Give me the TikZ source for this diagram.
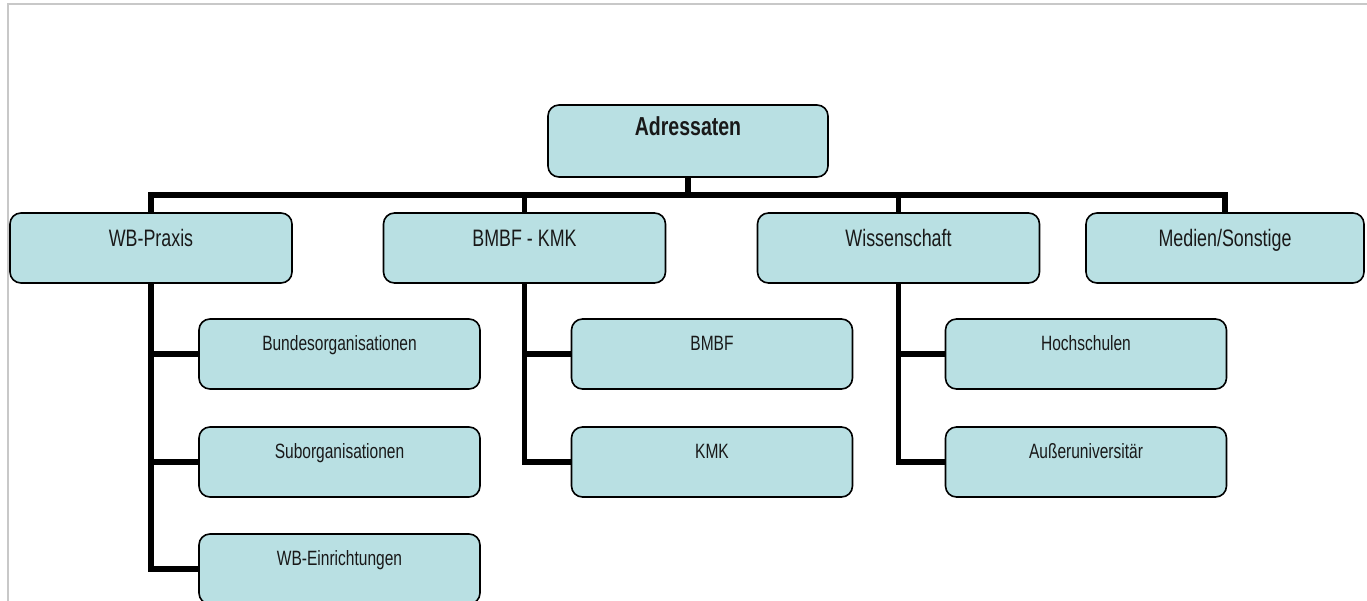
\documentclass[tikz,border=0pt]{standalone}
\usepackage{fontspec}
\newfontfamily\cf[FakeStretch=0.75]{Liberation Sans}
\usetikzlibrary{backgrounds}
\definecolor{boxfill}{RGB}{185,224,227}
\definecolor{frame}{RGB}{200,200,200}
\definecolor{txt}{RGB}{25,25,25}
\tikzset{
  box/.style={draw=black, line width=1.6pt, fill=boxfill, rounded corners=11pt,
    inner sep=0pt, text=txt, font=\cf, align=center},
  toplevel/.style={box, minimum width=280pt, minimum height=72pt,
    text height=12pt, text depth=24pt, font=\cf\bfseries\fontsize{26}{30}\selectfont},
  levelone/.style={box, minimum width=282pt, minimum height=70pt,
    text height=12pt, text depth=16pt, font=\cf\fontsize{23.8}{28}\selectfont},
  leveltwo/.style={box, minimum width=281pt, minimum height=70pt,
    text height=12pt, text depth=20pt, font=\cf\fontsize{20.7}{24}\selectfont},
  conn/.style={line width=5.5pt, line join=miter, line cap=rect, draw=black}
}
\begin{document}
\begin{tikzpicture}[x=1pt, y=-1pt]
\useasboundingbox (0,0) rectangle (1367,600);
\clip (0,0) rectangle (1367,600);
% frame
\draw[frame, line width=2.2pt] (1370,4) -- (8,4) -- (8,610);

\coordinate (bar) at (0,195);

\node[toplevel] (adr) at (688,141) {Adressaten};

\node[levelone] (wb)  at (151,248) {WB-Praxis};
\node[levelone] (bk)  at (524.5,248) {BMBF - KMK};
\node[levelone] (wis) at (898.5,248) {Wissenschaft};
\node[levelone, minimum width=278pt] (med) at (1225,248) {Medien/Sonstige};

\node[leveltwo] (bo)  at (339.5,354) {Bundesorganisationen};
\node[leveltwo] (so)  at (339.5,462) {Suborganisationen};
\node[leveltwo] (wbe) at (339.5,569) {WB-Einrichtungen};

\node[leveltwo] (bmbf) at (712,354) {BMBF};
\node[leveltwo] (kmk)  at (712,462) {KMK};

\node[leveltwo] (hs) at (1086,354) {Hochschulen};
\node[leveltwo] (au) at (1086,462) {Außeruniversitär};

\begin{scope}[on background layer]
  \draw[conn] (adr.south) -- (adr.south |- bar);
  \draw[conn] (wb.north) -- (wb.north |- bar) -- (med.north |- bar) -- (med.north);
  \draw[conn] (bk.north) -- (bk.north |- bar);
  \draw[conn] (wis.north) -- (wis.north |- bar);
  % WB-Praxis children
  \draw[conn] (wb.south) |- (wbe.west);
  \draw[conn] (wb.south |- bo.west) -- (bo.west);
  \draw[conn] (wb.south |- so.west) -- (so.west);
  % BMBF - KMK children
  \draw[conn] (bk.south) |- (kmk.west);
  \draw[conn] (bk.south |- bmbf.west) -- (bmbf.west);
  % Wissenschaft children
  \draw[conn] (wis.south) |- (au.west);
  \draw[conn] (wis.south |- hs.west) -- (hs.west);
\end{scope}
\end{tikzpicture}
\end{document}
